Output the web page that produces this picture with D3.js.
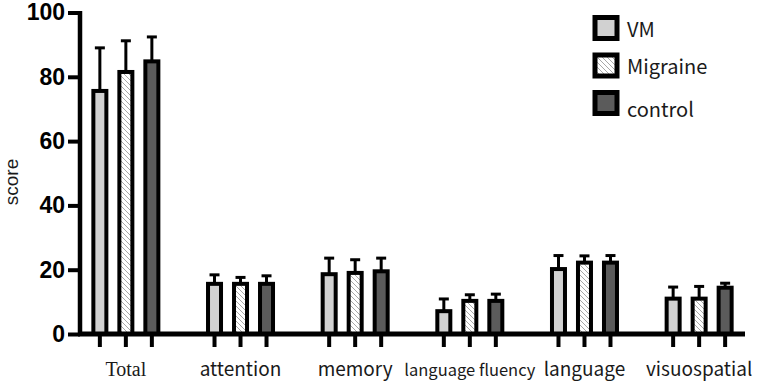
<!DOCTYPE html>
<html>
<head>
<meta charset="utf-8">
<script src="https://cdn.jsdelivr.net/npm/d3@7"></script>
<style>
  body { margin: 0; background: #fff; }
  svg { display: block; }
</style>
</head>
<body>
<div class="barChart"></div>
<script>
// data (mean, and top of the error bar)
var categories = ["Total", "attention", "memory", "language fluency", "language", "visuospatial"];
var groups = ["VM", "Migraine", "control"];
var vmMean = [75.6, 15.6, 18.6, 7.1, 20.2, 11.0];
var vmErr = [13.4, 2.8, 5.0, 3.8, 4.2, 3.6];
var migraineMean = [81.5, 15.6, 19.0, 10.3, 22.2, 11.0];
var migraineErr = [9.7, 2.0, 4.1, 1.9, 2.1, 3.8];
var controlMean = [84.8, 15.6, 19.5, 10.3, 22.2, 14.4];
var controlErr = [7.6, 2.5, 4.1, 2.1, 2.2, 1.4];
var yTicks = [0, 20, 40, 60, 80, 100];

function init() {
  var w = 765;
  var h = 384;

  var means = [vmMean, migraineMean, controlMean];
  var errs = [vmErr, migraineErr, controlErr];
  var fills = ["#d1d1d1", "url(#hatch)", "#5b5b5b"];

  var data = [];
  categories.forEach(function(c, i) {
    groups.forEach(function(g, j) {
      data.push({ cat: c, group: g, mean: means[j][i], err: errs[j][i], fill: fills[j] });
    });
  });

  var svg = d3.select(".barChart")
    .append("svg")
    .attr("width", w)
    .attr("height", h);

  // hatch for the Migraine bars
  var pat = svg.append("defs").append("pattern")
    .attr("id", "hatch")
    .attr("patternUnits", "userSpaceOnUse")
    .attr("width", 5)
    .attr("height", 5);
  pat.append("rect").attr("width", 5).attr("height", 5).attr("fill", "#fff");
  pat.append("path")
    .attr("d", "M-1,4 L1,6 M0,0 L5,5 M4,-1 L6,1")
    .attr("stroke", "#a8a8a8")
    .attr("stroke-width", 1);

  var x0 = d3.scalePoint()
    .domain(categories)
    .range([80, 745])
    .padding(0.4);

  var x1 = d3.scaleBand()
    .domain(groups)
    .range([-39, 39]);

  var yScale = d3.scaleLinear()
    .domain([0, 100])
    .range([334, 12.5]);

  var barW = 13;
  function cx(d) { return x0(d.cat) + x1(d.group) + x1.bandwidth() / 2; }

  // error bars (upper only)
  svg.selectAll(".err")
    .data(data)
    .enter()
    .append("line")
    .attr("x1", cx)
    .attr("x2", cx)
    .attr("y1", function(d) { return yScale(d.mean); })
    .attr("y2", function(d) { return yScale(d.mean + d.err); })
    .attr("stroke", "#000")
    .attr("stroke-width", 3);

  svg.selectAll(".cap")
    .data(data)
    .enter()
    .append("line")
    .attr("x1", function(d) { return cx(d) - 5; })
    .attr("x2", function(d) { return cx(d) + 5; })
    .attr("y1", function(d) { return yScale(d.mean + d.err); })
    .attr("y2", function(d) { return yScale(d.mean + d.err); })
    .attr("stroke", "#000")
    .attr("stroke-width", 3);

  // bars
  svg.selectAll(".bar")
    .data(data)
    .enter()
    .append("rect")
    .attr("x", function(d) { return cx(d) - barW / 2; })
    .attr("y", function(d) { return yScale(d.mean); })
    .attr("width", barW)
    .attr("height", function(d) { return yScale(0) - yScale(d.mean); })
    .attr("fill", function(d) { return d.fill; })
    .attr("stroke", "#000")
    .attr("stroke-width", 4);

  // y axis
  var yAxis = d3.axisLeft(yScale)
    .tickValues(yTicks)
    .tickSize(12)
    .tickSizeOuter(0)
    .tickPadding(3);

  var gy = svg.append("g")
    .attr("transform", "translate(80,0)")
    .call(yAxis);
  gy.select(".domain").attr("stroke-width", 4.5).attr("d", "M0," + (yScale(100) - 1.5) + "V" + yScale(0));
  gy.selectAll(".tick line").attr("stroke-width", 4);
  gy.selectAll(".tick text")
    .style("font-family", "'Liberation Sans', Arial, sans-serif")
    .style("font-weight", "bold")
    .style("font-size", "23px")
    .attr("fill", "#000");

  // x axis line and a tick under every bar
  svg.append("line")
    .attr("x1", 78)
    .attr("x2", 745)
    .attr("y1", yScale(0))
    .attr("y2", yScale(0))
    .attr("stroke", "#000")
    .attr("stroke-width", 5);

  svg.selectAll(".xtick")
    .data(data)
    .enter()
    .append("line")
    .attr("x1", cx)
    .attr("x2", cx)
    .attr("y1", yScale(0))
    .attr("y2", yScale(0) + 13)
    .attr("stroke", "#000")
    .attr("stroke-width", 4);

  // category labels
  svg.selectAll(".cat")
    .data(categories)
    .enter()
    .append("text")
    .attr("x", function(d) { return x0(d); })
    .attr("y", 376)
    .attr("text-anchor", "middle")
    .style("font-family", function(d) {
      return d === "Total" ? "'Liberation Serif', 'Times New Roman', serif" : "'Noto Sans CJK SC', 'Noto Sans', sans-serif";
    })
    .style("font-size", function(d) {
      if (d === "Total") return "20px";
      if (d === "language fluency") return "16.5px";
      return "19px";
    })
    .attr("fill", "#1a1a1a")
    .text(function(d) { return d; });

  // y axis title
  svg.append("text")
    .attr("transform", "rotate(-90)")
    .attr("x", -182)
    .attr("y", 18)
    .attr("text-anchor", "middle")
    .style("font-family", "'Liberation Sans', Arial, sans-serif")
    .style("font-size", "19px")
    .attr("fill", "#1a1a1a")
    .text("score");

  // legend
  var legend = svg.selectAll(".legend")
    .data(groups)
    .enter()
    .append("g")
    .attr("transform", function(d, i) { return "translate(595," + (17.5 + i * 37.5) + ")"; });

  legend.append("rect")
    .attr("width", 22)
    .attr("height", 21)
    .attr("fill", function(d, i) { return fills[i]; })
    .attr("stroke", "#000")
    .attr("stroke-width", 5);

  legend.append("text")
    .attr("x", 32)
    .attr("y", function(d, i) { return i === 2 ? 24 : 19; })
    .style("font-family", "'Noto Sans CJK SC', 'Noto Sans', sans-serif")
    .style("font-size", "20px")
    .attr("fill", "#1a1a1a")
    .text(function(d) { return d; });
}
window.onload = init;
</script>
</body>
</html>
